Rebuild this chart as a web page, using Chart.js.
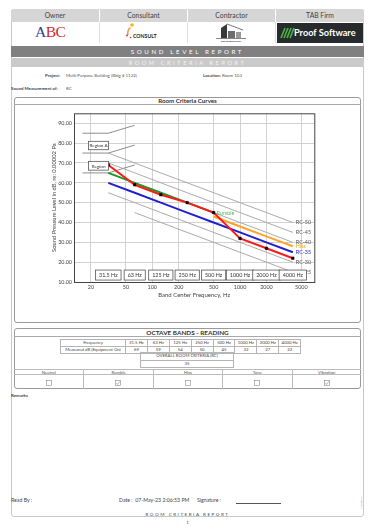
<!DOCTYPE html>
<html>
<head>
<meta charset="utf-8">
<script src="https://cdn.jsdelivr.net/npm/chart.js@4.4.1/dist/chart.umd.min.js"></script>
<style>
  body { margin: 0; background: #fff; font-family: Lato, "Open Sans", sans-serif; color: #333; }
  .a { position: absolute; white-space: nowrap; }
  .box { position: absolute; box-sizing: border-box; }
  .c { display: flex; align-items: center; justify-content: center; }
  .b { font-weight: bold; }
  table.t { position: absolute; border-collapse: collapse; font-size: 4.3px; color: #444; }
  table.t td { border: 0.6px solid #b5b5b5; text-align: center; padding: 0; height: 6px; line-height: 6px; }
</style>
</head>
<body>
<!-- page frame -->
<div class="box" style="left:11px;top:9px;width:353px;height:508px;border:1px solid #c8c8c8;border-radius:3px;"></div>

<!-- header -->
<div class="box" style="left:11px;top:9px;width:353px;height:12.7px;background:#d6d6d6;border-radius:3px 3px 0 0;"></div>
<div class="box c" style="left:11px;top:9px;width:88px;height:12.7px;font-size:6.8px;color:#444;">Owner</div>
<div class="box c" style="left:99px;top:9px;width:88px;height:12.7px;font-size:6.8px;color:#444;border-left:1px solid #fff;">Consultant</div>
<div class="box c" style="left:187px;top:9px;width:88px;height:12.7px;font-size:6.8px;color:#444;border-left:1px solid #fff;">Contractor</div>
<div class="box c" style="left:275px;top:9px;width:89px;height:12.7px;font-size:6.8px;color:#444;border-left:1px solid #fff;">TAB Firm</div>
<div class="box" style="left:99px;top:21.7px;width:1px;height:21.5px;background:#ddd;"></div>
<div class="box" style="left:187px;top:21.7px;width:1px;height:21.5px;background:#ddd;"></div>
<div class="box" style="left:275px;top:21.7px;width:1px;height:21.5px;background:#ddd;"></div>

<!-- logos -->
<div class="a" style="left:35px;top:24px;font-family:'Liberation Serif',serif;font-size:15.5px;line-height:16px;letter-spacing:-0.5px;">
  <span style="color:#2b3f93;">A</span><span style="color:#cf2a2f;">BC</span>
</div>
<svg class="a" style="left:124px;top:22px;" width="40" height="20">
  <circle cx="8" cy="3" r="1.8" fill="#f2b619"/>
  <path d="M6.5 5.5 Q3 8 4 13" stroke="#f08a1c" stroke-width="1.3" fill="none"/>
  <circle cx="3" cy="13.5" r="0.9" fill="#d9262a"/>
  <circle cx="6.5" cy="15.5" r="0.8" fill="#d9262a"/>
  <text x="9" y="15.5" font-size="5.2" font-weight="bold" font-family="Lato, sans-serif" fill="#222">CONSULT</text>
</svg>
<svg class="a" style="left:213px;top:22px;" width="36" height="21">
  <polygon points="8,16 8,6 14,2 14,16" fill="#3a3a3a"/>
  <polyline points="14,2 30,8" stroke="#555" stroke-width="0.8" fill="none"/>
  <rect x="15" y="9" width="7" height="7" fill="#6d6d6d"/>
  <rect x="23" y="10" width="5" height="6" fill="#9a9a9a"/>
  <line x1="3" y1="16.5" x2="33" y2="16.5" stroke="#333" stroke-width="0.6"/>
  <text x="18" y="19.5" font-size="2.6" font-weight="bold" text-anchor="middle" font-family="Lato, sans-serif" fill="#222">CONSTRUCTION</text>
</svg>
<div class="box" style="left:276.7px;top:23.3px;width:86px;height:19.4px;background:#282b2d;"></div>
<svg class="a" style="left:279px;top:26px;" width="16" height="14">
  <path d="M2 12 L6 2 M5 12 L9 2 M8 12 L12 2 M11 12 L15 2" stroke="#4bb33f" stroke-width="1.6"/>
</svg>
<div class="a b" style="left:294px;top:27px;font-size:9.2px;line-height:11px;color:#fff;">Proof Software</div>

<!-- report bars -->
<div class="box c" style="left:11px;top:45.8px;width:353px;height:11px;background:#808080;color:#fff;font-size:6.2px;letter-spacing:2.6px;">SOUND LEVEL REPORT</div>
<div class="box c" style="left:11px;top:57.6px;width:353px;height:9.6px;background:#cacaca;color:#f4f4f4;font-size:5.6px;letter-spacing:2.6px;">ROOM CRITERIA REPORT</div>

<div class="a b" style="left:45px;top:72.6px;font-size:4.4px;color:#444;">Project:</div>
<div class="a" style="left:66px;top:72.6px;font-size:4.4px;color:#555;">Multi Purpose Building (Bldg # 1122)</div>
<div class="a b" style="left:203px;top:72.6px;font-size:4.4px;color:#444;">Location:</div>
<div class="a" style="left:222px;top:72.6px;font-size:4.4px;color:#555;">Room 103</div>
<div class="a b" style="left:11px;top:85.6px;font-size:4.4px;color:#444;">Sound Measurement of:</div>
<div class="a" style="left:66px;top:85.6px;font-size:4.4px;color:#555;">RC</div>

<!-- chart panel -->
<div class="box" style="left:14px;top:96.7px;width:347px;height:226px;border:1px solid #9a9a9a;border-radius:3px;"></div>
<div class="box c b" style="left:14px;top:96.8px;width:347px;height:7px;font-size:6.2px;color:#333;">Room Criteria Curves</div>
<div class="box" style="left:14px;top:103.6px;width:347px;height:0.8px;background:#aaa;"></div>
<canvas id="rcChart" class="a" style="left:15px;top:104px;" width="345" height="218"></canvas>

<!-- octave bands panel -->
<div class="box" style="left:14px;top:328px;width:347px;height:61px;border:1px solid #9a9a9a;border-radius:3px;"></div>
<div class="box c b" style="left:14px;top:328.8px;width:347px;height:7px;font-size:6.4px;color:#333;">OCTAVE BANDS - READING</div>
<div class="box" style="left:14px;top:335.8px;width:347px;height:0.8px;background:#aaa;"></div>
<table class="t" id="bandTable" style="left:60px;top:338.6px;"></table>
<table class="t" style="left:140px;top:352.3px;width:94px;">
  <tr><td style="height:6.4px;">OVERALL ROOM CRITERIA (RC)</td></tr>
  <tr><td style="height:6.4px;" id="rcValue"></td></tr>
</table>
<div id="checks"></div>

<div class="a b" style="left:11px;top:392.6px;font-size:4.4px;color:#444;">Remarks</div>

<!-- footer -->
<div class="a" style="left:11px;top:497px;font-size:5.2px;color:#444;">Read By :</div>
<div class="a" style="left:119px;top:497px;font-size:5.2px;color:#444;">Date :&nbsp; 07-May-23 2:06:53 PM</div>
<div class="a" style="left:197px;top:497px;font-size:5.2px;color:#444;">Signature :</div>
<div class="box" style="left:236px;top:502.5px;width:45px;height:0.7px;background:#555;"></div>
<div class="box c" style="left:11px;top:510.5px;width:353px;height:6px;font-size:4.6px;letter-spacing:1.5px;color:#444;">ROOM CRITERIA REPORT</div>
<div class="box c" style="left:11px;top:519px;width:353px;height:6px;font-size:4.4px;color:#444;">1</div>
<div class="a" style="left:360px;top:509px;font-size:2px;color:#999;transform:rotate(-90deg);transform-origin:left top;">ProofSoftware</div>

<script>
const bands = [31.5, 63, 125, 250, 500, 1000, 2000, 4000];
const bandNames = ['31.5 Hz', '63 Hz', '125 Hz', '250 Hz', '500 Hz', '1000 Hz', '2000 Hz', '4000 Hz'];
const measured = [69, 59, 54, 50, 45, 32, 27, 22];
const overallRC = 35;

const rc35 = [60, 55, 50, 45, 40, 35, 30, 25];
const rumbleBands = [31.5, 63, 125, 250, 500];
const rumble = [65, 60, 55, 50, 45];
const hissBands = [500, 1000, 2000, 4000];
const hiss = [43, 38, 33, 28];
const rc50 = [75, 70, 65, 60, 55, 50, 45, 40];
const rc45 = [70, 65, 60, 55, 50, 45, 40, 35];
const rc40 = [65, 60, 55, 50, 45, 40, 35, 30];
const rc30 = [55, 50, 45, 40, 35, 30, 25, 20];
const rc25 = [null, 45, 40, 35, 30, 25, 20, 15];

const regionBands = [16, 31.5, 63];
const regionTop = [85, 85, 89];
const regionMid = [75, 75, 79];
const regionLow = [65, 65, 69];

const xTicks = [20, 50, 100, 200, 500, 1000, 2000, 5000];
const yTicks = [10, 20, 30, 40, 50, 60, 70, 80, 90];

const checkNames = ['Neutral', 'Rumble', 'Hiss', 'Tone', 'Vibration'];
const checked = [false, true, false, false, true];

// tables
const tbl = document.getElementById('bandTable');
tbl.innerHTML =
  '<tr><td style="width:64px">Frequency</td>' + bandNames.map(n => '<td style="width:20.9px">' + n + '</td>').join('') + '</tr>' +
  '<tr><td>Measured dB (Equipment On)</td>' + measured.map(v => '<td>' + v + '</td>').join('') + '</tr>';
document.getElementById('rcValue').textContent = overallRC;

let chk = '';
checkNames.forEach((n, i) => {
  const left = 14 + i * 69.4;
  chk += '<div class="box c" style="left:' + left + 'px;top:369px;width:69.4px;height:6px;font-size:4.3px;color:#555;border-top:0.6px solid #bbb;border-bottom:0.6px solid #bbb;' + (i ? 'border-left:0.6px solid #bbb;' : '') + '">' + n + '</div>';
  chk += '<div class="box" style="left:' + left + 'px;top:375px;width:69.4px;height:14px;' + (i ? 'border-left:0.6px solid #bbb;' : '') + '"></div>';
  chk += '<svg class="a" style="left:' + (left + 32) + 'px;top:379.5px;" width="6" height="6"><rect x="0.5" y="0.5" width="5" height="5" fill="#fff" stroke="#888" stroke-width="0.6"/>' +
    (checked[i] ? '<polyline points="1.3,3 2.6,4.4 4.8,1.4" fill="none" stroke="#888" stroke-width="0.6"/>' : '') + '</svg>';
});
document.getElementById('checks').innerHTML = chk;

const pts = (xs, ys) => xs.map((x, i) => ({ x: x, y: ys[i] })).filter(p => p.y != null);
const gray = (data, col) => ({ data: data, borderColor: col || '#a0a0a0', borderWidth: 0.9, pointRadius: 0 });

const endLabels = [
  ['RC-50', rc50, '#555'], ['RC-45', rc45, '#555'], ['RC-40', rc40, '#555'],
  ['Hiss', hiss, '#f5a623'], ['RC-35', rc35, '#2222c8'], ['RC-30', rc30, '#555'], ['RC-25', rc25, '#555']
];

const FONT = 'Lato, "Open Sans", sans-serif';

const overlay = {
  id: 'overlay',
  afterDatasetsDraw(chart) {
    const { ctx, chartArea: a, scales: { x, y } } = chart;
    ctx.save();
    ctx.strokeStyle = '#444';
    ctx.lineWidth = 1;
    ctx.strokeRect(a.left + 0.5, a.top + 0.5, a.right - a.left, a.bottom - a.top);

    ctx.font = '5.4px ' + FONT;
    ctx.textBaseline = 'middle';
    ctx.textAlign = 'left';
    const xe = x.getPixelForValue(bands[bands.length - 1]) + 3;
    endLabels.forEach(([t, arr, col]) => {
      ctx.fillStyle = col;
      ctx.fillText(t, xe, y.getPixelForValue(arr[arr.length - 1]));
    });
    ctx.fillStyle = '#5cb85c';
    ctx.fillText('Rumble', x.getPixelForValue(500) + 3, y.getPixelForValue(rumble[rumble.length - 1]) + 0.5);

    // band boxes
    const box = (text, cx, cy, w, h) => {
      ctx.fillStyle = '#fff';
      ctx.fillRect(cx - w / 2, cy - h / 2, w, h);
      ctx.strokeStyle = '#555';
      ctx.lineWidth = 0.8;
      ctx.strokeRect(cx - w / 2, cy - h / 2, w, h);
      ctx.fillStyle = '#333';
      ctx.textAlign = 'center';
      ctx.fillText(text, cx, cy + 0.3);
    };
    bands.forEach((b, i) => {
      const w = ctx.measureText(bandNames[i]).width + 7;
      box(bandNames[i], x.getPixelForValue(b), y.getPixelForValue(13.5), w, 10);
    });
    ctx.font = '4.6px ' + FONT;
    box('Region A', x.getPixelForValue(24.4), y.getPixelForValue(78.8), 20, 8.4);
    box('Region', x.getPixelForValue(24.4), y.getPixelForValue(68.6), 20, 8.8);

    // y title, just left of the tick labels
    ctx.fillStyle = '#444';
    ctx.font = '5.8px ' + FONT;
    ctx.translate(a.left - 20, (a.top + a.bottom) / 2);
    ctx.rotate(-Math.PI / 2);
    ctx.textAlign = 'center';
    ctx.fillText('Sound Pressure Level in dB, re: 0.00002 Pa', 0, 0);
    ctx.restore();
  }
};

new Chart(document.getElementById('rcChart'), {
  type: 'line',
  data: {
    datasets: [
      { data: pts(bands, measured), borderColor: '#ff1a1a', borderWidth: 2, pointStyle: 'rect', pointRadius: 1.8, pointBackgroundColor: '#000', pointBorderColor: '#000', pointBorderWidth: 0.5 },
      { data: pts(bands, rc35), borderColor: '#2020d0', borderWidth: 2, pointRadius: 0 },
      { data: pts(rumbleBands, rumble), borderColor: '#1e9a2a', borderWidth: 2, pointRadius: 0 },
      { data: pts(hissBands, hiss), borderColor: '#ffa424', borderWidth: 2, pointRadius: 0 },
      gray(pts(bands, rc50)),
      gray(pts(bands, rc45)),
      gray(pts(bands, rc40)),
      gray(pts(bands, rc30)),
      gray(pts(bands, rc25)),
      gray(pts(regionBands, regionTop), '#808080'),
      gray(pts(regionBands, regionMid), '#808080'),
      gray(pts(regionBands, regionLow), '#808080')
    ]
  },
  options: {
    responsive: false,
    animation: false,
    devicePixelRatio: 1,
    layout: { padding: { left: 0, right: 45.7, top: 9.3, bottom: 23 } },
    elements: { line: { tension: 0 } },
    plugins: { legend: { display: false }, tooltip: { enabled: false } },
    scales: {
      x: {
        type: 'logarithmic',
        min: 12.8,
        max: 7030,
        afterBuildTicks: s => { s.ticks = xTicks.map(v => ({ value: v })); },
        afterFit: s => { s.height = 17; },
        grid: { color: '#d2d2d2', drawTicks: false },
        border: { display: false },
        ticks: { autoSkip: false, maxRotation: 0, padding: 2.5, color: '#444', font: { size: 5.4, family: FONT }, callback: v => String(v) },
        title: { display: true, text: 'Band Center Frequency, Hz', color: '#444', font: { size: 6, family: FONT }, padding: 0 }
      },
      y: {
        min: 10,
        max: 95.04,
        afterBuildTicks: s => { s.ticks = yTicks.map(v => ({ value: v })); },
        afterFit: s => { s.width = 59; },
        grid: { color: '#d2d2d2', drawTicks: false },
        border: { display: false },
        ticks: { padding: 2, color: '#444', font: { size: 5.4, family: FONT }, callback: v => v.toFixed(2) }
      }
    }
  },
  plugins: [overlay]
});
</script>
</body>
</html>
